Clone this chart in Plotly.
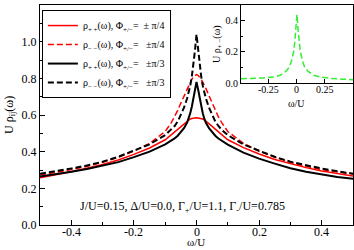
import plotly.graph_objects as go

# ---- data ----
omega = [-0.5, -0.45, -0.4, -0.35, -0.3, -0.25, -0.2, -0.15, -0.1, -0.08, -0.07, -0.06, -0.05,
         -0.04, -0.03, -0.025, -0.02, -0.015, -0.01, -0.005, 0.0,
         0.005, 0.01, 0.015, 0.02, 0.025, 0.03, 0.04, 0.05, 0.06, 0.07, 0.08, 0.1, 0.15,
         0.2, 0.25, 0.3, 0.35, 0.4, 0.45, 0.5]

rho_pp_pi4 = [0.257, 0.272, 0.290, 0.310, 0.330, 0.355, 0.385, 0.420, 0.465, 0.493, 0.508, 0.523, 0.538,
              0.553, 0.567, 0.573, 0.578, 0.581, 0.583, 0.584, 0.585,
              0.584, 0.583, 0.581, 0.578, 0.573, 0.567, 0.553, 0.538, 0.523, 0.508, 0.493, 0.465, 0.422,
              0.387, 0.357, 0.333, 0.313, 0.295, 0.280, 0.267]

rho_mm_pi4 = [0.272, 0.286, 0.302, 0.320, 0.342, 0.370, 0.403, 0.445, 0.510, 0.560, 0.590, 0.625, 0.665,
              0.705, 0.745, 0.762, 0.778, 0.795, 0.808, 0.816, 0.820,
              0.816, 0.808, 0.795, 0.778, 0.762, 0.745, 0.705, 0.665, 0.625, 0.590, 0.560, 0.510, 0.445,
              0.403, 0.370, 0.342, 0.320, 0.302, 0.290, 0.278]

rho_pp_pi3 = [0.265, 0.276, 0.290, 0.305, 0.322, 0.343, 0.370, 0.400, 0.440, 0.460, 0.472, 0.487, 0.505,
              0.528, 0.558, 0.580, 0.610, 0.645, 0.690, 0.740, 0.780,
              0.740, 0.690, 0.645, 0.610, 0.580, 0.558, 0.528, 0.505, 0.487, 0.472, 0.460, 0.438, 0.395,
              0.362, 0.335, 0.310, 0.290, 0.275, 0.262, 0.252]

rho_mm_pi3 = [0.280, 0.293, 0.308, 0.325, 0.345, 0.372, 0.405, 0.440, 0.490, 0.520, 0.540, 0.565, 0.600,
              0.640, 0.690, 0.720, 0.760, 0.810, 0.870, 0.950, 1.040,
              0.950, 0.870, 0.810, 0.760, 0.720, 0.690, 0.640, 0.600, 0.565, 0.540, 0.520, 0.490, 0.440,
              0.405, 0.372, 0.345, 0.325, 0.308, 0.293, 0.280]

omega_inset = [-0.5, -0.4, -0.3, -0.2, -0.15, -0.1, -0.07, -0.05, -0.03, -0.02, -0.01, 0.0,
               0.01, 0.02, 0.03, 0.05, 0.07, 0.1, 0.15, 0.2, 0.3, 0.4, 0.5]
rho_pm = [0.028, 0.030, 0.033, 0.040, 0.050, 0.075, 0.100, 0.140, 0.200, 0.260, 0.340, 0.440,
          0.340, 0.260, 0.200, 0.140, 0.100, 0.075, 0.050, 0.040, 0.030, 0.025, 0.022]

main_xticks = [-0.4, -0.2, 0.0, 0.2, 0.4]
main_xticktext = ["-0.4", "-0.2", "0", "0.2", "0.4"]
main_yticks = [0.0, 0.2, 0.4, 0.6, 0.8, 1.0, 1.2]
main_yticktext = ["0.0", "0.2", "0.4", "0.6", "0.8", "1.0", "1.2"]
inset_xticks = [-0.25, 0.0, 0.25]
inset_xticktext = ["-0.25", "0", "0.25"]
inset_yticks = [0.0, 0.2, 0.4]
inset_yticktext = ["0.0", "0.2", "0.4"]

NB = "\u00a0"
labels = [
    f"ρ<sub>+ +</sub>(ω),{NB}Φ<sub>+/−</sub>={NB}{NB}± π/4",
    f"ρ<sub>− −</sub>(ω),{NB}Φ<sub>+/−</sub>={NB}{NB}{NB}±π/4",
    f"ρ<sub>+ +</sub>(ω),{NB}Φ<sub>+/−</sub>={NB}{NB}{NB}±π/3",
    f"ρ<sub>− −</sub>(ω),{NB}Φ<sub>+/−</sub>={NB}{NB}{NB}±π/3",
]

FONT = "Liberation Serif"
DASH = "6px,3px"

fig = go.Figure()
fig.add_trace(go.Scatter(x=omega, y=rho_pp_pi4, mode="lines", name=labels[0],
                         line=dict(color="#ff0000", width=1.5)))
fig.add_trace(go.Scatter(x=omega, y=rho_mm_pi4, mode="lines", name=labels[1],
                         line=dict(color="#ff0000", width=1.5, dash=DASH)))
fig.add_trace(go.Scatter(x=omega, y=rho_pp_pi3, mode="lines", name=labels[2],
                         line=dict(color="#000000", width=2)))
fig.add_trace(go.Scatter(x=omega, y=rho_mm_pi3, mode="lines", name=labels[3],
                         line=dict(color="#000000", width=2, dash=DASH)))
fig.add_trace(go.Scatter(x=omega_inset, y=rho_pm, mode="lines", showlegend=False,
                         xaxis="x2", yaxis="y2",
                         line=dict(color="#33ee33", width=1.5, dash=DASH)))

axis_common = dict(showline=True, linecolor="black", linewidth=1, mirror=True, automargin=False,
                   ticks="inside", tickcolor="black", showgrid=False, zeroline=False)

# x tick labels placed through the x axis scales
xlabel_annots = [dict(text=t, x=v, xref="x", y=-0.03, yref="paper", xanchor="center",
                      yanchor="middle", showarrow=False, font=dict(size=12))
                 for v, t in zip(main_xticks, main_xticktext)]
inset_xlabel_annots = [dict(text=t, x=v, xref="x2", y=0.614, yref="paper", xanchor="center",
                            yanchor="middle", showarrow=False, font=dict(size=10))
                       for v, t in zip(inset_xticks, inset_xticktext)]

fig.update_layout(
    width=354, height=250,
    margin=dict(l=40, r=1, t=5, b=25),
    paper_bgcolor="white", plot_bgcolor="white",
    font=dict(family=FONT, size=12, color="black"),
    xaxis=dict(range=[-0.5, 0.5], tickvals=main_xticks, ticktext=main_xticktext,
               showticklabels=False,
               ticklen=5, minor=dict(dtick=0.1, ticklen=3, ticks="inside", tickcolor="black"),
               **axis_common),
    yaxis=dict(range=[0, 1.2], tickvals=main_yticks, ticktext=main_yticktext,
               ticklen=5, minor=dict(dtick=0.1, ticklen=3, ticks="inside", tickcolor="black"),
               tickfont=dict(size=12), **axis_common),
    xaxis2=dict(domain=[0.642, 1.0], anchor="y2", range=[-0.5, 0.5],
                tickvals=inset_xticks, ticktext=inset_xticktext, ticklen=4,
                showticklabels=False, **axis_common),
    yaxis2=dict(domain=[0.645, 1.0], anchor="x2", range=[0, 0.5],
                tickvals=inset_yticks, ticktext=inset_yticktext, ticklen=4,
                minor=dict(dtick=0.1, ticklen=2, ticks="inside", tickcolor="black"),
                tickfont=dict(size=10), **axis_common),
    legend=dict(x=0.006, y=0.977, xanchor="left", yanchor="top",
                bordercolor="black", borderwidth=1, bgcolor="white",
                font=dict(size=10), itemwidth=30, tracegroupgap=0),
    annotations=xlabel_annots + inset_xlabel_annots + [
        dict(text="J/U=0.15, Δ/U=0.0, Γ<sub>+</sub>/U=1.1, Γ<sub>-</sub>/U=0.785",
             xref="paper", yref="paper", x=0.454, y=0.082, xanchor="center",
             yanchor="middle", showarrow=False, font=dict(size=12)),
        dict(text="ω/U", xref="paper", yref="paper", x=0.497, y=-0.1136,
             xanchor="center", yanchor="bottom", showarrow=False, font=dict(size=11)),
        dict(text="U ρ<sub>ij</sub>(ω)", xref="paper", yref="paper", x=-0.096, y=0.5,
             xanchor="center", yanchor="middle", textangle=-90, showarrow=False,
             font=dict(size=12)),
        dict(text="ω/U", xref="paper", yref="paper", x=0.821, y=0.586,
             xanchor="center", yanchor="top", showarrow=False, font=dict(size=10)),
        dict(text="U ρ<sub>+ −</sub>(ω)", xref="paper", yref="paper", x=0.569, y=0.823,
             xanchor="center", yanchor="middle", textangle=-90, showarrow=False,
             font=dict(size=10)),
    ],
)

fig.write_html("out.html", config={"displayModeBar": False},
               post_script="document.body.style.margin='0';")
